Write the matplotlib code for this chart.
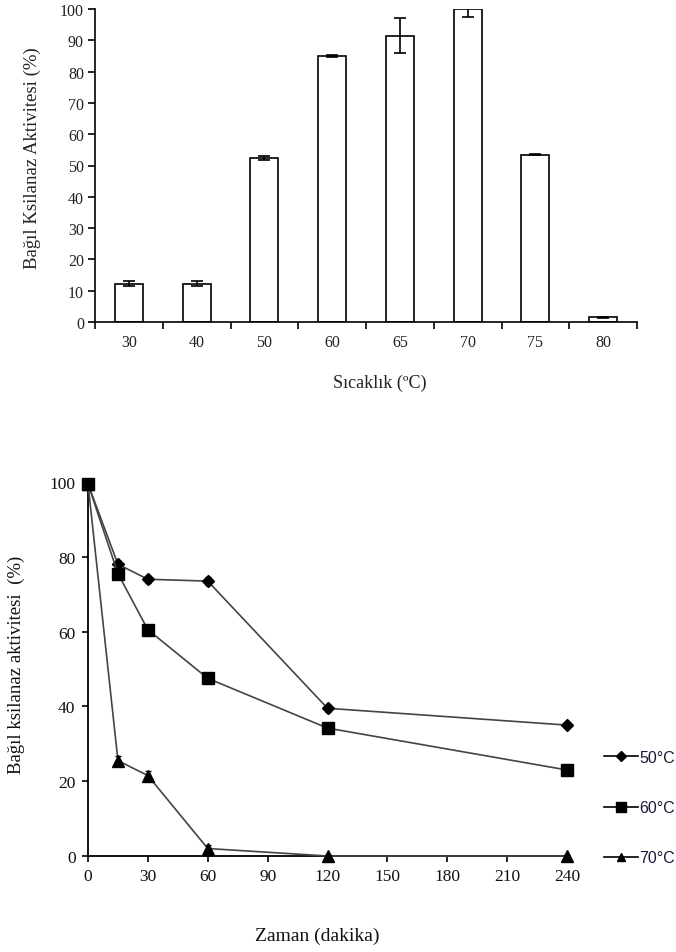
import numpy as np
import matplotlib
matplotlib.use("Agg")
import matplotlib.pyplot as plt
from matplotlib.lines import Line2D

# ── Data: top chart (optimum temperature) ─────────────────────────────────────
temps      = ["30", "40", "50", "60", "65", "70", "75", "80"]
activity   = [12.3, 12.3, 52.3, 85.0, 91.5, 100.0, 53.5, 1.5]
activity_e = [0.7, 0.8, 0.7, 0.2, 5.5, 2.5, 0.2, 0.2]

# ── Data: bottom chart (thermal stability) ────────────────────────────────────
times   = [0, 15, 30, 60, 120, 240]
s50     = [99.5, 78.0, 74.0, 73.5, 39.5, 35.0]
s60     = [99.5, 75.5, 60.5, 47.5, 34.2, 23.0]
s70     = [99.5, 25.5, 21.5, 2.0, 0.0, 0.0]
s50_e   = [0.5, 1.0, 1.0, 1.0, 1.0, 0.8]
s60_e   = [0.5, 0.8, 0.5, 0.5, 0.5, 0.5]
s70_e   = [0.5, 1.2, 1.3, 1.0, 0.3, 0.3]
series_labels = ["50°C", "60°C", "70°C"]
x_ticks = list(range(0, 241, 30))

SERIF = ["Liberation Serif", "DejaVu Serif"]
SANS  = ["Liberation Sans", "DejaVu Sans"]

W, H = 676, 953
fig = plt.figure(figsize=(W / 100, H / 100), dpi=100)

# ── Top chart ─────────────────────────────────────────────────────────────────
ax1 = fig.add_axes([95 / W, 1 - 323 / H, (637 - 95) / W, (323 - 10) / H])
pos = np.arange(len(temps))
ax1.bar(pos, activity, width=0.41, color="white", edgecolor="black", linewidth=1.2, zorder=2)
ax1.errorbar(pos, activity, yerr=activity_e, fmt="none", ecolor="black",
             elinewidth=1.2, capsize=4, capthick=1.2, zorder=3)
ax1.set_xlim(-0.5, len(temps) - 0.5)
ax1.set_ylim(0, 100)
ax1.set_yticks(range(0, 101, 10))
ax1.set_xticks(np.arange(-0.5, len(temps), 1.0))
ax1.set_xticklabels([])
ax1.set_xticks(pos, minor=True)
ax1.set_xticklabels(temps, minor=True)
ax1.tick_params(axis="x", which="major", direction="out", length=5, width=1.2)
ax1.tick_params(axis="x", which="minor", length=0, pad=9)
ax1.tick_params(axis="y", direction="out", length=5, width=1.2, pad=3)
for lab in ax1.get_xticklabels(minor=True) + ax1.get_yticklabels():
    lab.set_fontfamily(SERIF)
    lab.set_fontsize(11.5)
    lab.set_color("#222222")
for s in ("top", "right"):
    ax1.spines[s].set_visible(False)
for s in ("left", "bottom"):
    ax1.spines[s].set_linewidth(1.2)
fig.text(32 / W, 1 - 158 / H, "Bağıl Ksilanaz Aktivitesi (%)", rotation=90,
         ha="center", va="center", fontsize=13.5, family=SERIF, color="#222222")
fig.text(380 / W, 1 - 383 / H, "Sıcaklık (ºC)", ha="center", va="center",
         fontsize=13, family=SERIF, color="#222222")

# ── Bottom chart ──────────────────────────────────────────────────────────────
ax2 = fig.add_axes([88 / W, 1 - 857 / H, (567 - 88) / W, (857 - 483) / H])
styles = [("D", 6), ("s", 9), ("^", 8)]
handles = []
for ys, es, (mk, ms), lab in zip([s50, s60, s70], [s50_e, s60_e, s70_e], styles, series_labels):
    ax2.errorbar(times, ys, yerr=es, fmt="none", ecolor="black", elinewidth=1,
                 capsize=2, clip_on=False, zorder=3)
    ax2.plot(times, ys, color="#444444", linewidth=1.2, marker=mk, markersize=ms,
             markerfacecolor="black", markeredgecolor="black", clip_on=False, zorder=4)
    handles.append(Line2D([], [], color="black", linewidth=1.2, marker=mk,
                          markersize=ms * 0.8, markerfacecolor="black", label=lab))
ax2.set_xlim(0, 240)
ax2.set_ylim(0, 100)
ax2.set_xticks(x_ticks)
ax2.set_yticks(range(0, 101, 20))
ax2.tick_params(direction="out", length=4, width=1.2, pad=5)
for lab in ax2.get_xticklabels() + ax2.get_yticklabels():
    lab.set_fontfamily(SERIF)
    lab.set_fontsize(12.5)
    lab.set_color("#111111")
for s in ("top", "right"):
    ax2.spines[s].set_visible(False)
for s in ("left", "bottom"):
    ax2.spines[s].set_linewidth(1.3)
fig.text(16 / W, 1 - 665 / H, "Bağıl ksilanaz aktivitesi  (%)", rotation=90,
         ha="center", va="center", fontsize=13.5, family=SERIF, color="#111111")
fig.text(317 / W, 1 - 936 / H, "Zaman (dakika)", ha="center", va="center",
         fontsize=14, family=SERIF, color="#111111")

leg = fig.legend(handles=handles, loc="upper left",
                 bbox_to_anchor=(604 / W, 1 - 751 / H), frameon=False,
                 borderpad=0, borderaxespad=0, labelspacing=2.2,
                 handlelength=2.1, handletextpad=0.1,
                 prop={"family": SANS, "size": 11.5})
for t in leg.get_texts():
    t.set_color("#1a1a3a")

fig.savefig("out.png", dpi=100)
